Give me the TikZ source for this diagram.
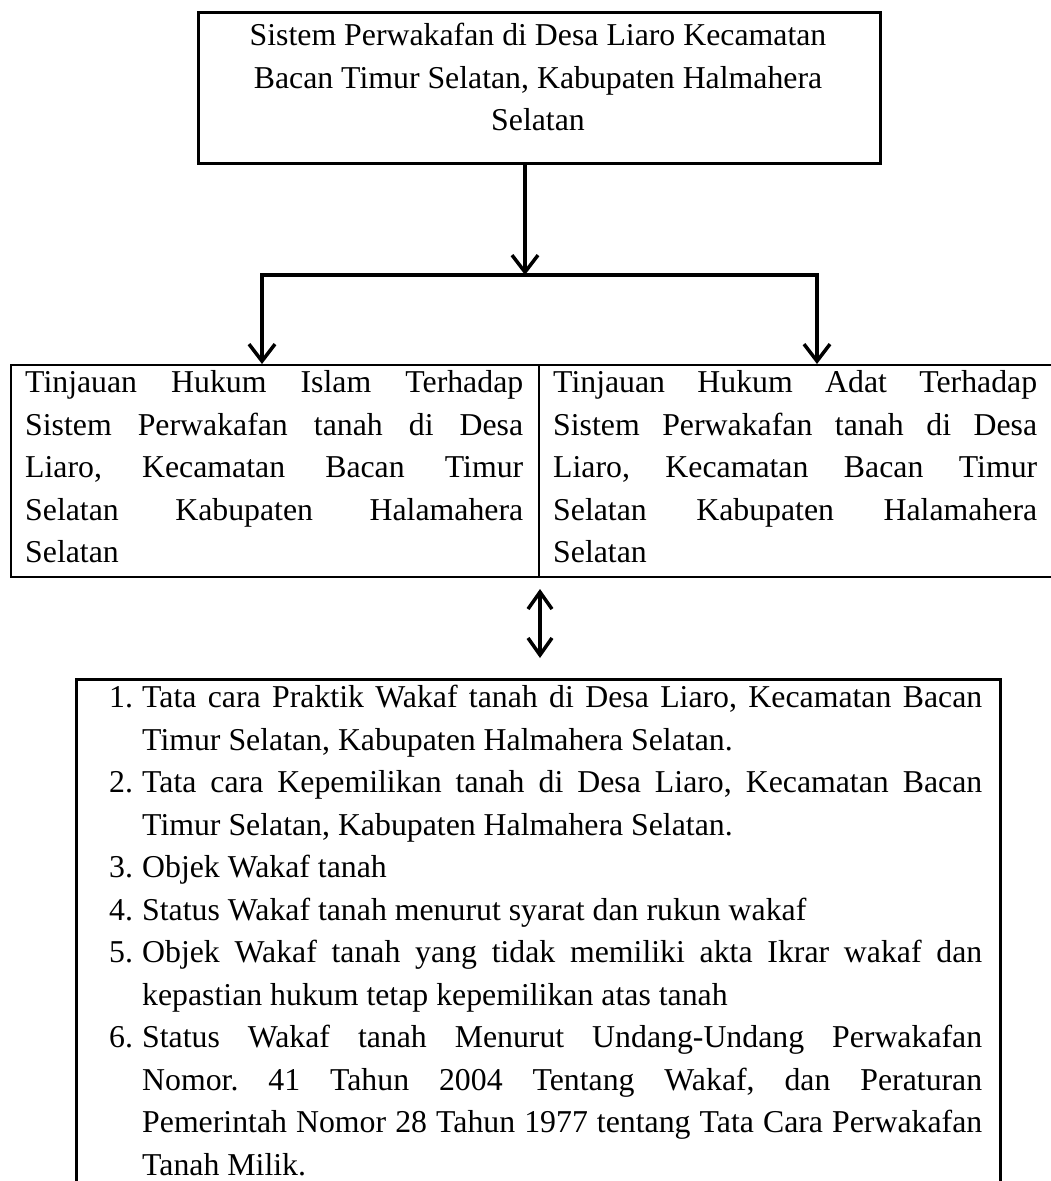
\documentclass[tikz,border=0pt]{standalone}
\usepackage{fontspec}
\setmainfont{Liberation Serif}
\usetikzlibrary{arrows.meta}
\begin{document}
\begin{tikzpicture}[x=1pt,y=-1pt,
  txt/.style={inner sep=0pt, font=\fontsize{31.8}{42.5}\selectfont},
  jtxt/.style={txt, align=justify},
  topbox/.style={draw, line width=3pt, inner sep=0pt},
  midbox/.style={draw, line width=2pt, inner sep=0pt},
  botbox/.style={draw, line width=2.5pt, inner sep=0pt},
  conn/.style={line width=3.5pt, line join=miter},
  arr/.style={conn, -{Straight Barb[length=17pt,width=26pt]}},
  dbl/.style={conn, {Straight Barb[length=17pt,width=24pt]}-{Straight Barb[length=17pt,width=24pt]}}
]
\useasboundingbox (0,0) rectangle (1050,1181);
\frenchspacing\hyphenpenalty=10000\exhyphenpenalty=10000\tolerance=10000
% top box
\node[topbox, minimum width=682pt, minimum height=151pt, anchor=north west] (top) at (197,11) {};
\node[txt, align=center, anchor=north] (toptxt) at (538,16) {\strut Sistem Perwakafan di Desa Liaro Kecamatan\\ Bacan Timur Selatan, Kabupaten Halmahera\\ Selatan};
% junction
\coordinate (j) at (525,275);
\coordinate (jl) at (262,275);
\coordinate (jr) at (817,275);
% middle boxes
\node[midbox, minimum width=528pt, minimum height=212pt, anchor=north west] (left) at (10,364) {};
\node[midbox, minimum width=514pt, minimum height=212pt, anchor=north west] (right) at (538,364) {};
\node[jtxt, text width=498pt, anchor=north west] (lefttxt) at (25,363) {\strut Tinjauan Hukum Islam Terhadap\linebreak Sistem Perwakafan tanah di Desa\linebreak Liaro, Kecamatan Bacan Timur\linebreak Selatan Kabupaten Halamahera\linebreak Selatan};
\node[jtxt, text width=484pt, anchor=north west] (righttxt) at (553,363) {\strut Tinjauan Hukum Adat Terhadap\linebreak Sistem Perwakafan tanah di Desa\linebreak Liaro, Kecamatan Bacan Timur\linebreak Selatan Kabupaten Halamahera\linebreak Selatan};
% bottom box
\node[botbox, minimum width=924pt, minimum height=540pt, anchor=north west] (bot) at (75,678) {};
\node[jtxt, text width=873pt, anchor=north west] (bottxt) at (109,678) {%
\leftskip=33pt\parindent=0pt\parskip=0pt
\noindent\llap{\makebox[33pt][l]{1.}}\strut Tata cara Praktik Wakaf tanah di Desa Liaro, Kecamatan Bacan\linebreak Timur Selatan, Kabupaten Halmahera Selatan.\par
\noindent\llap{\makebox[33pt][l]{2.}}Tata cara Kepemilikan tanah di Desa Liaro, Kecamatan Bacan\linebreak Timur Selatan, Kabupaten Halmahera Selatan.\par
\noindent\llap{\makebox[33pt][l]{3.}}Objek Wakaf tanah\par
\noindent\llap{\makebox[33pt][l]{4.}}Status Wakaf tanah menurut syarat dan rukun wakaf\par
\noindent\llap{\makebox[33pt][l]{5.}}Objek Wakaf tanah yang tidak memiliki akta Ikrar wakaf dan\linebreak kepastian hukum tetap kepemilikan atas tanah\par
\noindent\llap{\makebox[33pt][l]{6.}}Status Wakaf tanah Menurut Undang-Undang Perwakafan\linebreak Nomor. 41 Tahun 2004 Tentang Wakaf, dan Peraturan\linebreak Pemerintah Nomor 28 Tahun 1977 tentang Tata Cara Perwakafan\linebreak Tanah Milik.\par}; 
% connectors
\draw[arr] (top.south -| j) -- (j);
\draw[arr] (j) -| (left.north -| jl);
\draw[arr] (j) -| (right.north -| jr);
\draw[dbl, shorten <=11pt, shorten >=20pt] (left.south east) -- (bot.north -| left.south east);
\end{tikzpicture}
\end{document}
